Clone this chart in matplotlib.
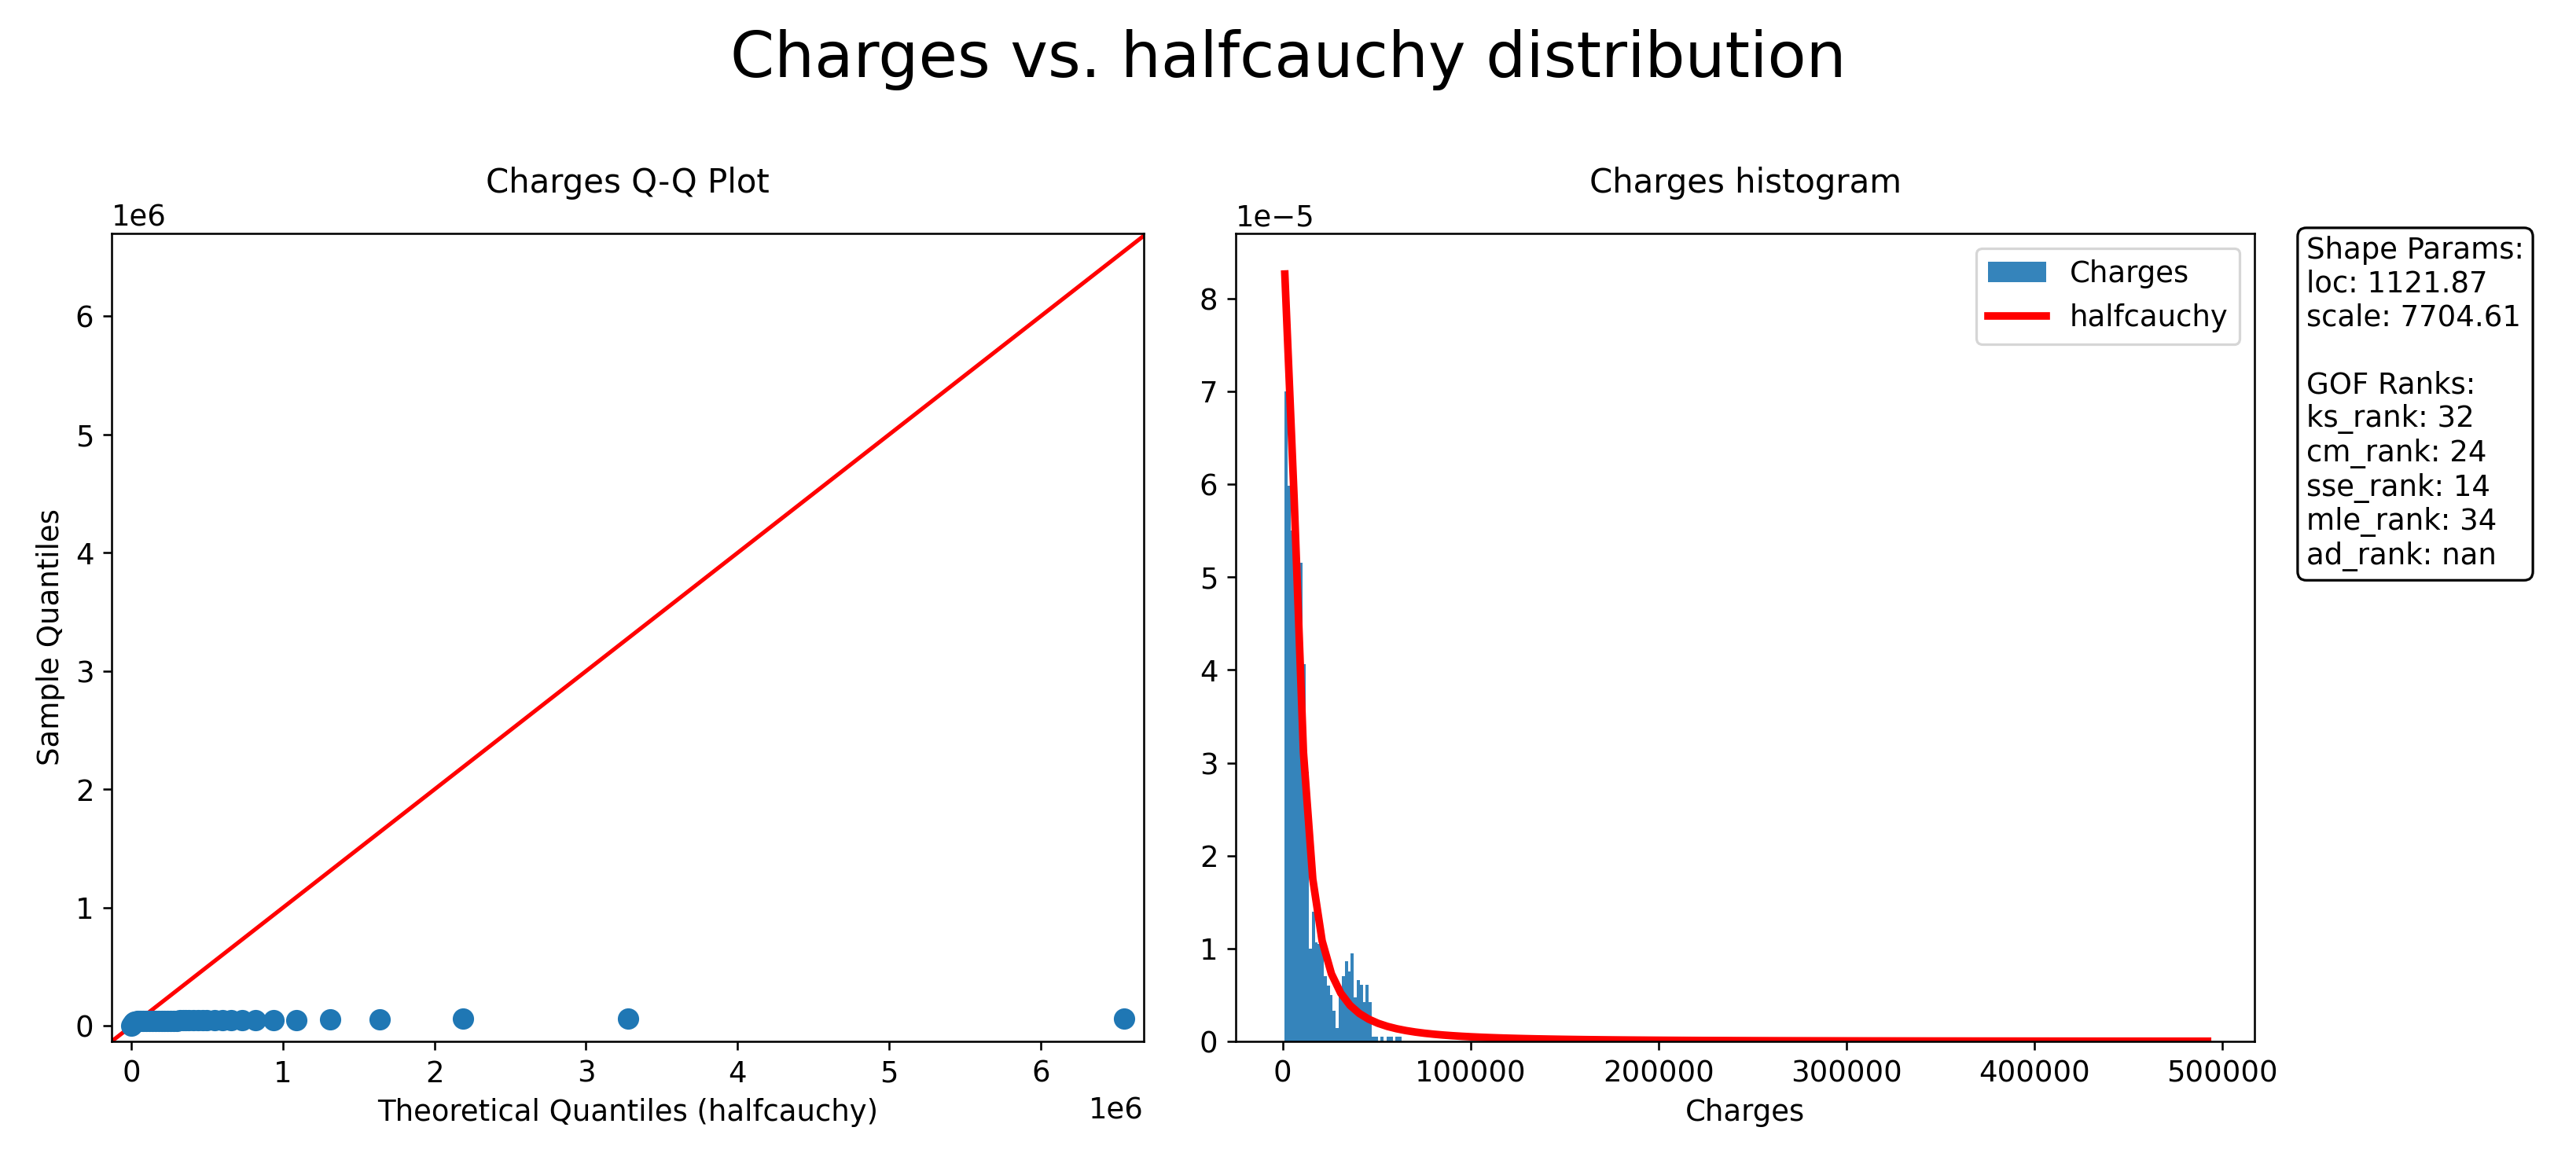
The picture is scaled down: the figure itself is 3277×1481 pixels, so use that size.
import numpy as np
import matplotlib.pyplot as plt

LOC = 1121.87
SCALE = 7704.61

# histogram bins (density, units of 1e-5)
bin_start = 1121.87
bin_width = 1594.0
hist_heights = [7.0, 5.98, 5.5, 5.0, 4.67, 5.15, 4.06, 2.9, 1.0, 1.4, 1.07, 1.05,
                1.05, 0.7, 0.6, 0.5, 0.33, 0.14, 0.5, 0.7, 0.86, 0.75, 0.95, 0.47,
                0.66, 0.61, 0.42, 0.61, 0.42, 0.05, 0.05, 0.0, 0.05, 0.0, 0.05,
                0.05, 0.0, 0.05, 0.05]

# Q-Q points (theoretical, sample)
qq_theoretical = [6.55e6, 3.28e6, 2.19e6, 1.64e6, 1.31e6, 1.09e6, 0.94e6, 0.82e6,
                  0.73e6, 0.66e6, 0.60e6, 0.55e6, 0.50e6, 0.47e6, 0.44e6, 0.41e6,
                  0.38e6, 0.36e6, 0.34e6, 0.32e6, 0.30e6, 0.28e6, 0.26e6, 0.24e6,
                  0.22e6, 0.20e6, 0.18e6, 0.16e6, 0.14e6, 0.12e6, 0.10e6, 0.08e6,
                  0.06e6, 0.05e6, 0.04e6, 0.03e6, 0.02e6, 0.015e6, 0.01e6, 0.005e6,
                  0.002e6]
qq_sample = [63770, 62592, 60021, 58571, 55135, 52590, 51194, 49577, 48885, 48549,
             48173, 47928, 47462, 47305, 47055, 46889, 46718, 46599, 46255, 46151,
             45863, 45702, 45008, 44641, 44501, 44400, 44260, 43943, 43921, 43813,
             42983, 42303, 40720, 40003, 39983, 38126, 35160, 30000, 22000, 12000,
             4000]

box_text = ("Shape Params:\nloc: 1121.87\nscale: 7704.61\n\nGOF Ranks:\nks_rank: 32\n"
            "cm_rank: 24\nsse_rank: 14\nmle_rank: 34\nad_rank: nan")

plt.rcParams["font.size"] = 11.5

fig = plt.figure(figsize=(3277 / 232, 1481 / 232), dpi=232)
ax1 = fig.add_axes([142 / 3277, 1 - 1325 / 1481, (1455 - 142) / 3277, (1325 - 297) / 1481])
ax2 = fig.add_axes([1572 / 3277, 1 - 1325 / 1481, (2868 - 1572) / 3277, (1325 - 297) / 1481])

fig.suptitle("Charges vs. halfcauchy distribution", fontsize=25, y=0.975)

ax1.scatter(qq_theoretical, qq_sample, s=55, color="#1f77b4", zorder=3)
ax1.set_xlim(-1.3e5, 6.68e6)
ax1.set_ylim(-1.3e5, 6.7e6)
ax1.plot([-1.3e5, 6.7e6], [-1.3e5, 6.7e6], color="red", lw=1.6)
ax1.set_title("Charges Q-Q Plot", fontsize=13, pad=16)
ax1.set_xlabel("Theoretical Quantiles (halfcauchy)")
ax1.set_ylabel("Sample Quantiles")

heights = np.array(hist_heights) * 1e-5
lefts = bin_start + bin_width * np.arange(len(heights))
ax2.bar(lefts, heights, width=bin_width, align="edge", color="#1f77b4", alpha=0.9,
        label="Charges")
x = np.linspace(LOC, 492000, 100)
pdf = 2 / (np.pi * SCALE * (1 + ((x - LOC) / SCALE) ** 2))
ax2.plot(x, pdf, color="red", lw=3, label="halfcauchy")
ax2.set_xlim(-25000, 517000)
ax2.set_ylim(0, 8.7e-5)
ax2.set_title("Charges histogram", fontsize=13, pad=16)
ax2.set_xlabel("Charges")
handles, labels = ax2.get_legend_handles_labels()
ax2.legend(handles[::-1], labels[::-1], loc="upper right")

fig.text(2934 / 3277, 1 - 300 / 1481, box_text, fontsize=11.5, va="top", ha="left",
         bbox=dict(boxstyle="round,pad=0.3", facecolor="white", edgecolor="black"))

fig.savefig("out.png", dpi=232)
